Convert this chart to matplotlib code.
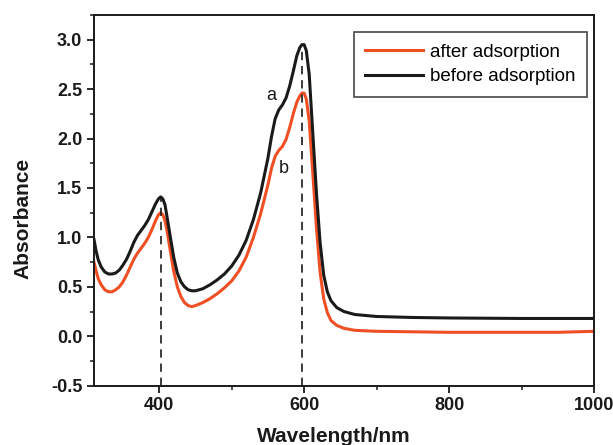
import matplotlib
matplotlib.use("Agg")
import matplotlib.pyplot as plt
from matplotlib.ticker import MultipleLocator

plt.rcParams["font.family"] = ["Liberation Sans", "DejaVu Sans"]

wavelength = [310, 313, 316, 320, 325, 330, 335, 340, 345, 350, 355, 360, 365, 370, 375,
              380, 385, 390, 395, 399, 402, 405, 408, 411, 415, 420, 425, 430, 435, 440,
              445, 450, 460, 470, 480, 490, 500, 510, 520, 530, 540, 550, 555, 560,
              565, 570, 575, 580, 585, 590, 594, 597, 600, 603, 607, 612, 617, 622, 627,
              632, 637, 645, 655, 670, 700, 750, 800, 900, 950, 1000]

before = [0.98, 0.86, 0.77, 0.70, 0.65, 0.63, 0.63, 0.64, 0.67, 0.72, 0.78, 0.86, 0.95, 1.02, 1.07,
          1.12, 1.18, 1.26, 1.34, 1.39, 1.41, 1.39, 1.33, 1.20, 1.02, 0.80, 0.64, 0.55, 0.50, 0.47,
          0.46, 0.46, 0.48, 0.52, 0.57, 0.63, 0.71, 0.82, 0.97, 1.18, 1.45, 1.80, 2.02, 2.20,
          2.29, 2.34, 2.41, 2.53, 2.68, 2.84, 2.92, 2.95, 2.95, 2.89, 2.65, 2.05, 1.45, 0.95, 0.62,
          0.45, 0.36, 0.29, 0.25, 0.22, 0.20, 0.19, 0.185, 0.18, 0.18, 0.18]

after = [0.75, 0.66, 0.58, 0.52, 0.47, 0.45, 0.45, 0.47, 0.50, 0.55, 0.62, 0.70, 0.78, 0.84, 0.89,
         0.94, 1.00, 1.08, 1.17, 1.23, 1.25, 1.23, 1.17, 1.06, 0.88, 0.66, 0.50, 0.40, 0.34, 0.31,
         0.30, 0.31, 0.34, 0.38, 0.43, 0.49, 0.56, 0.66, 0.80, 1.00, 1.24, 1.53, 1.70, 1.82,
         1.88, 1.92, 1.99, 2.11, 2.25, 2.37, 2.43, 2.46, 2.46, 2.40, 2.18, 1.65, 1.10, 0.65, 0.38,
         0.24, 0.16, 0.11, 0.08, 0.06, 0.05, 0.045, 0.04, 0.04, 0.04, 0.05]

peak_x = [402, 597]
peak_y = [1.41, 2.95]

fig = plt.figure(figsize=(6.13, 4.45), dpi=100)
ax = fig.add_axes([0.1533, 0.1333, 0.8157, 0.833])

ax.plot(wavelength, after, color="#f04e23", linewidth=2.2, label="after adsorption")
ax.plot(wavelength, before, color="#1a1a1a", linewidth=2.2, label="before adsorption")
ax.vlines(peak_x, -0.5, peak_y, colors="#1a1a1a", linestyles=(0, (5, 3.5)), linewidth=1.2)

ax.text(555, 2.44, "a", fontsize=13, ha="center", va="center", color="#1a1a1a")
ax.text(572, 1.70, "b", fontsize=13, ha="center", va="center", color="#1a1a1a")

ax.set_xlim(310, 1000)
ax.set_ylim(-0.5, 3.25)
ax.xaxis.set_major_locator(MultipleLocator(200))
ax.xaxis.set_minor_locator(MultipleLocator(100))
ax.yaxis.set_major_locator(MultipleLocator(0.5))
ax.yaxis.set_minor_locator(MultipleLocator(0.25))
ax.yaxis.set_major_formatter(plt.FuncFormatter(lambda v, p: f"{v:.1f}"))

for s in ax.spines.values():
    s.set_linewidth(1.4)
    s.set_color("#1a1a1a")
ax.tick_params(which="major", direction="out", length=5, width=1.3,
               labelsize=13, colors="#1a1a1a")
ax.tick_params(which="minor", direction="out", length=3, width=1.1, colors="#1a1a1a")
for lab in ax.get_xticklabels() + ax.get_yticklabels():
    lab.set_fontweight("bold")

ax.set_xlabel("Wavelength/nm", fontsize=15, fontweight="bold", color="#1a1a1a")
ax.set_ylabel("Absorbance", fontsize=15, fontweight="bold", color="#1a1a1a")
ax.xaxis.set_label_coords(0.48, -0.112)
ax.yaxis.set_label_coords(-0.123, 0.452)

leg = ax.legend(loc="upper right", bbox_to_anchor=(0.986, 0.954), borderaxespad=0,
                fontsize=13.5, handlelength=3.1, handletextpad=0.35, fancybox=False,
                frameon=True, edgecolor="#1a1a1a", borderpad=0.62, labelspacing=0.4)
leg.get_frame().set_linewidth(1.2)

fig.savefig("out.png", dpi=100)
